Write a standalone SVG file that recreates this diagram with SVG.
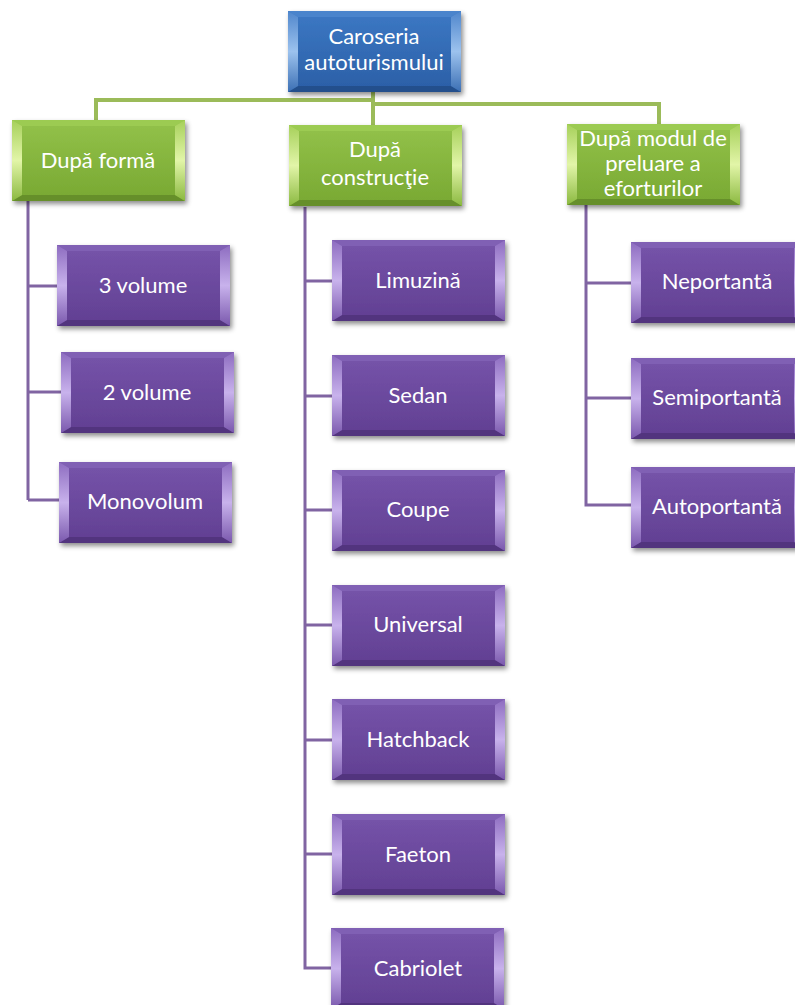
<svg xmlns="http://www.w3.org/2000/svg" xmlns:xlink="http://www.w3.org/1999/xlink" width="795" height="1005" viewBox="0 0 795 1005">
  <style>
    .lbl { font-family: Lato, "Open Sans", "Liberation Sans", sans-serif; font-size: 22px; fill: #ffffff; text-anchor: middle; }
    .green-line { stroke: #9bbb59; stroke-width: 4; fill: none; }
    .purple-line { stroke: #8064a2; stroke-width: 3; fill: none; }
  </style>
  <defs>
    <filter id="shadow" x="-10%" y="-10%" width="130%" height="140%">
      <feDropShadow dx="2" dy="3" stdDeviation="2.5" flood-color="#000" flood-opacity="0.45"/>
    </filter>
    <!-- face gradients -->
    <linearGradient id="faceBlue" x1="0" y1="0" x2="0" y2="1">
      <stop offset="0" stop-color="#3c78c4"/>
      <stop offset="1" stop-color="#2b5fa6"/>
    </linearGradient>
    <linearGradient id="faceGreen" x1="0" y1="0" x2="0" y2="1">
      <stop offset="0" stop-color="#93c24a"/>
      <stop offset="1" stop-color="#78a832"/>
    </linearGradient>
    <linearGradient id="facePurple" x1="0" y1="0" x2="0" y2="1">
      <stop offset="0" stop-color="#7654aa"/>
      <stop offset="1" stop-color="#613f92"/>
    </linearGradient>
    <!-- side bevel gradients: bright in the middle -->
    <linearGradient id="sideBlue" x1="0" y1="0" x2="0" y2="1">
      <stop offset="0" stop-color="#4f86cc"/>
      <stop offset="0.5" stop-color="#9cc2ee"/>
      <stop offset="1" stop-color="#3b6fb4"/>
    </linearGradient>
    <linearGradient id="sideGreen" x1="0" y1="0" x2="0" y2="1">
      <stop offset="0" stop-color="#a6d05a"/>
      <stop offset="0.5" stop-color="#e2f5a8"/>
      <stop offset="1" stop-color="#8bb940"/>
    </linearGradient>
    <linearGradient id="sidePurple" x1="0" y1="0" x2="0" y2="1">
      <stop offset="0" stop-color="#8d6cc0"/>
      <stop offset="0.5" stop-color="#c8b2ec"/>
      <stop offset="1" stop-color="#7a58ad"/>
    </linearGradient>

    <!-- bevelled box shapes, 173 x 81, drawn at the origin -->
    <symbol id="boxBlue" overflow="visible">
      <rect x="0" y="0" width="173" height="81" fill="url(#faceBlue)" filter="url(#shadow)"/>
      <polygon points="0,0 173,0 163,6 10,6" fill="#4a84cc"/>
      <polygon points="0,81 173,81 163,75 10,75" fill="#234f8c"/>
      <polygon points="0,0 10,6 10,75 0,81" fill="url(#sideBlue)"/>
      <polygon points="173,0 163,6 163,75 173,81" fill="url(#sideBlue)"/>
    </symbol>
    <symbol id="boxGreen" overflow="visible">
      <rect x="0" y="0" width="173" height="81" fill="url(#faceGreen)" filter="url(#shadow)"/>
      <polygon points="0,0 173,0 163,6 10,6" fill="#9ccb52"/>
      <polygon points="0,81 173,81 163,75 10,75" fill="#668f2a"/>
      <polygon points="0,0 10,6 10,75 0,81" fill="url(#sideGreen)"/>
      <polygon points="173,0 163,6 163,75 173,81" fill="url(#sideGreen)"/>
    </symbol>
    <symbol id="boxPurple" overflow="visible">
      <rect x="0" y="0" width="173" height="81" fill="url(#facePurple)" filter="url(#shadow)"/>
      <polygon points="0,0 173,0 163,6 10,6" fill="#8060b4"/>
      <polygon points="0,81 173,81 163,75 10,75" fill="#52347e"/>
      <polygon points="0,0 10,6 10,75 0,81" fill="url(#sidePurple)"/>
      <polygon points="173,0 163,6 163,75 173,81" fill="url(#sidePurple)"/>
    </symbol>
  </defs>

  <rect width="795" height="1005" fill="#ffffff"/>

  <!-- connectors -->
  <g id="connectors">
    <path class="green-line" d="M373,92 V104"/>
    <path class="green-line" d="M96,120 V100 H373"/>
    <path class="green-line" d="M373,100 V125"/>
    <path class="green-line" d="M373,104 H659 V124"/>

    <path class="purple-line" d="M28,200 V500 M28,286 H57 M28,392 H61 M28,500 H59"/>
    <path class="purple-line" d="M305,207 V968 H333 M305,281 H333 M305,396 H333 M305,510 H333 M305,625 H333 M305,740 H333 M305,854 H333"/>
    <path class="purple-line" d="M586,204 V505 H631 M586,283 H631 M586,398 H631"/>
  </g>

  <!-- root -->
  <g id="root">
    <use href="#boxBlue" x="288" y="11"/>
    <text class="lbl" x="374" y="44">Caroseria</text>
    <text class="lbl" x="374" y="70">autoturismului</text>
  </g>

  <!-- categories -->
  <g id="dupa-forma">
    <use href="#boxGreen" x="12" y="120"/>
    <text class="lbl" x="98" y="168">După formă</text>
  </g>
  <g id="dupa-constructie">
    <use href="#boxGreen" x="289" y="125"/>
    <text class="lbl" x="375" y="157">După</text>
    <text class="lbl" x="375" y="185">construcţie</text>
  </g>
  <g id="dupa-modul">
    <use href="#boxGreen" x="567" y="124"/>
    <text class="lbl" x="653" y="146">După modul de</text>
    <text class="lbl" x="653" y="171">preluare a</text>
    <text class="lbl" x="653" y="196">eforturilor</text>
  </g>

  <!-- shapes -->
  <g id="trei-volume">
    <use href="#boxPurple" x="57" y="245"/>
    <text class="lbl" x="143" y="293">3 volume</text>
  </g>
  <g id="doua-volume">
    <use href="#boxPurple" x="61" y="352"/>
    <text class="lbl" x="147" y="400">2 volume</text>
  </g>
  <g id="monovolum">
    <use href="#boxPurple" x="59" y="462"/>
    <text class="lbl" x="145" y="509">Monovolum</text>
  </g>

  <!-- construction types -->
  <g id="limuzina">
    <use href="#boxPurple" x="332" y="240"/>
    <text class="lbl" x="418" y="288">Limuzină</text>
  </g>
  <g id="sedan">
    <use href="#boxPurple" x="332" y="355"/>
    <text class="lbl" x="418" y="403">Sedan</text>
  </g>
  <g id="coupe">
    <use href="#boxPurple" x="332" y="470"/>
    <text class="lbl" x="418" y="517">Coupe</text>
  </g>
  <g id="universal">
    <use href="#boxPurple" x="332" y="585"/>
    <text class="lbl" x="418" y="632">Universal</text>
  </g>
  <g id="hatchback">
    <use href="#boxPurple" x="332" y="699"/>
    <text class="lbl" x="418" y="747">Hatchback</text>
  </g>
  <g id="faeton">
    <use href="#boxPurple" x="332" y="814"/>
    <text class="lbl" x="418" y="862">Faeton</text>
  </g>
  <g id="cabriolet">
    <use href="#boxPurple" x="331" y="928"/>
    <text class="lbl" x="418" y="976">Cabriolet</text>
  </g>

  <!-- load-bearing types -->
  <g id="neportanta">
    <use href="#boxPurple" x="631" y="242"/>
    <text class="lbl" x="717" y="289">Neportantă</text>
  </g>
  <g id="semiportanta">
    <use href="#boxPurple" x="631" y="358"/>
    <text class="lbl" x="717" y="405">Semiportantă</text>
  </g>
  <g id="autoportanta">
    <use href="#boxPurple" x="631" y="467"/>
    <text class="lbl" x="717" y="514">Autoportantă</text>
  </g>
</svg>
